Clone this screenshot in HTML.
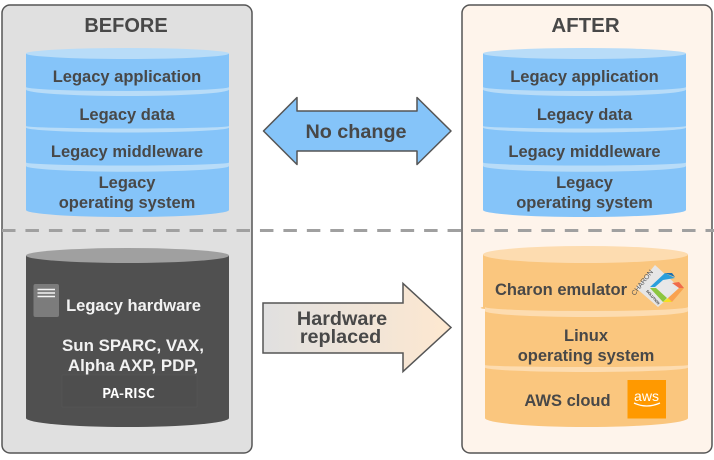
<!DOCTYPE html>
<html><head><meta charset="utf-8"><style>
html,body{margin:0;padding:0;background:#fff;width:714px;height:460px;overflow:hidden}
svg{display:block}
text{font-family:"Liberation Sans",sans-serif;font-weight:bold;fill:#484848;text-anchor:middle}
.s{font-size:16.500px}
.w{fill:#f2f2f2}
</style></head><body>
<svg width="714" height="460" viewBox="0 0 714 460" xmlns="http://www.w3.org/2000/svg">
<defs><linearGradient id="g" x1="0" x2="1" y1="0" y2="0"><stop offset="0" stop-color="#e0e0e0"/><stop offset="1" stop-color="#fee8d0"/></linearGradient></defs>
<rect x="2" y="5" width="250" height="448" rx="8" fill="#e0e0e0" stroke="#555" stroke-width="1.500"/>
<rect x="462" y="5" width="250" height="448" rx="8" fill="#fef4eb" stroke="#555" stroke-width="1.500"/>

<g id="c1">
<path d="M26 53.500V210A101.500 7 0 0 0 229 210V53.500Z" fill="#85c4f9"/>
<path d="M26 162.500V166A101.500 5.700 0 0 0 229 166V162.500A101.500 3 0 0 1 26 162.500Z" fill="#b8dcf8"/>
<path d="M26 126V127.500A101.500 5 0 0 0 229 127.500V126A101.500 2.500 0 0 1 26 126Z" fill="#b8dcf8"/>
<path d="M26 87V89.500A101.500 6.500 0 0 0 229 89.500V87A101.500 4 0 0 1 26 87Z" fill="#b8dcf8"/>
<ellipse cx="127.500" cy="53.500" rx="101.500" ry="5.500" fill="#b8dcf8"/>
</g>
<use href="#c1" x="457"/>

<text x="126" y="32" style="font-size:20px">BEFORE</text>
<text x="127" y="82" class="s">Legacy application</text>
<text x="127" y="120" class="s">Legacy data</text>
<text x="127" y="157" class="s">Legacy middleware</text>
<text x="127" y="188" class="s">Legacy</text>
<text x="127" y="208" class="s">operating system</text>

<text x="585.500" y="32" style="font-size:20.500px">AFTER</text>
<text x="584.500" y="82" class="s">Legacy application</text>
<text x="584.500" y="120" class="s">Legacy data</text>
<text x="584.500" y="157" class="s">Legacy middleware</text>
<text x="584.500" y="188" class="s">Legacy</text>
<text x="584.500" y="208" class="s">operating system</text>

<path d="M26 255.500V418A101.500 9 0 0 0 229 418V255.500Z" fill="#505050"/>
<ellipse cx="127.500" cy="255.500" rx="101.500" ry="7.500" fill="#a0a0a0"/>
<rect x="33.500" y="284" width="25.500" height="33" rx="2" fill="#7c7c7c"/>
<path d="M37.500 289.500H55M37.500 293H55M37.500 296.500H55" stroke="#f4f4f4" stroke-width="1.600"/>
<rect x="62" y="375" width="135" height="32" fill="#4e4e4e" stroke="#585858" stroke-width=".6"/>
<text x="133.500" y="311" class="s w">Legacy hardware</text>
<text x="133" y="351" class="w" style="font-size:16.900px">Sun SPARC, VAX,</text>
<text x="133" y="371" class="w" style="font-size:16.900px">Alpha AXP, PDP,</text>
<text x="128.500" y="398" style="font-size:13.500px;fill:#fff;font-family:'Noto Sans CJK JP','Liberation Sans',sans-serif">PA-RISC</text>

<path d="M483 254.500V307A102 4 0 0 0 485 309V418A101.500 9 0 0 0 688 418V254.500Z" fill="#fac67e"/>
<path d="M485 307V311A101.500 6 0 0 0 688 311V307A101.500 4 0 0 1 485 307Z" fill="#fddcb0"/>
<path d="M485 365V367.500A101.500 4.500 0 0 0 688 367.500V365A101.500 2 0 0 1 485 365Z" fill="#fddcb0"/>
<ellipse cx="585.500" cy="254.500" rx="102.500" ry="8.500" fill="#fddcb0"/>
<text x="561" y="295" class="s">Charon emulator</text>
<text x="586" y="341" class="s">Linux</text>
<text x="586" y="361" class="s">operating system</text>
<text x="567.500" y="406" class="s">AWS cloud</text>

<polygon points="636,288 655,265 680,288 658,307" fill="#e6e6e6"/>
<polygon points="653,288 665,278 675,287 663,298" fill="#e8e8e8"/>
<polygon points="650,287 665,273 675,278 663,280 655,287" fill="#2a9fdc"/>
<polygon points="665,273 672,273 675,277" fill="#1a6fb0"/>
<polygon points="650,288 656,288 667,298 663,302" fill="#8cc63f"/>
<polygon points="663,302 668,298 672,302" fill="#f5e020"/>
<polygon points="668,298 679,288 684,288 672,302" fill="#f9a24f"/>
<polygon points="672,283 679,282 684,288 679,288" fill="#ef6b4a"/>
<text transform="translate(644 284) rotate(-52)" style="font-size:7px;font-weight:normal;fill:#555">CHARON</text>
<text transform="translate(652 298) rotate(48)" style="font-size:3.500px;fill:#333">SOLUTION</text>

<rect x="627.500" y="380" width="38.500" height="38.500" fill="#ff9900"/>
<text x="646.500" y="401" style="font-size:14px;font-weight:normal;fill:#fff">aws</text>
<path d="M634 403Q646.500 409 660 403" fill="none" stroke="#fff" stroke-width="1.300"/>

<path d="M263.500 131L297 97.500V111H417V97.500L451 131L417 164.500V151H297V164.500Z" fill="#85c4f9" stroke="#555" stroke-width="1.500" stroke-linejoin="round"/>
<text x="356" y="138" style="font-size:19.800px">No change</text>

<path d="M263 303H403V283.500L451 327.500L403 371.500V353H263Z" fill="url(#g)" stroke="#555" stroke-width="1.500"/>
<text x="342" y="325" style="font-size:19.800px">Hardware</text>
<text x="340.500" y="343" style="font-size:19.800px">replaced</text>

<line x1="2" y1="230.500" x2="714" y2="230.500" stroke="#a0a0a0" stroke-width="3" stroke-dasharray="13.500 9.950"/>
</svg>
</body></html>
